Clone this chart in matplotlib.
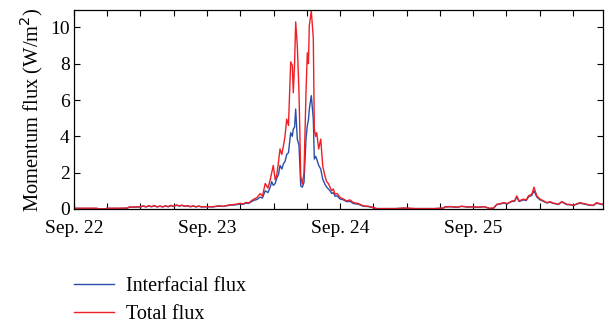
import pandas as pd
import matplotlib
matplotlib.use("Agg")
import matplotlib.pyplot as plt
import matplotlib.dates as mdates

plt.rcParams['font.family'] = ['Liberation Serif', 'DejaVu Serif']

# hours since Sep. 22 00:00
hours = [0, 2, 4, 4.8, 5.5, 6, 8, 9.6, 10, 11, 12, 12.5, 13, 13.5, 14, 14.5, 15, 15.5,
         16, 16.5, 17, 17.5, 18, 18.5, 19, 19.5, 20, 20.5, 21, 21.5, 22, 22.5, 23, 24,
         25, 26, 27, 28, 29, 30, 30.5, 31, 31.5, 32, 32.5, 33, 33.6, 34, 34.5, 35, 35.4,
         35.67, 35.96, 36.3, 36.58, 36.9, 37.17, 37.5, 37.8, 38.07, 38.38, 38.7, 39.1,
         39.39, 39.57, 39.8, 40.0, 40.29, 40.6, 40.91, 41.2, 41.5, 41.86, 42.1, 42.3,
         42.46, 42.82, 43.18, 43.36, 43.6, 43.79, 44.15, 44.52, 44.88, 45.29, 45.6, 45.89,
         46.2, 46.5, 46.8, 47.1, 47.5, 48.0, 48.6, 49.2, 49.8, 50.4, 51.3, 52.2, 53.1,
         54.0, 54.6, 56, 58, 59.5, 60.5, 61.5, 63, 65, 66.6, 67, 68, 69, 70, 71, 72, 73,
         74, 75, 75.7, 76.3, 77, 77.5, 78.2, 79.0, 79.5, 79.9, 80.3, 81.1, 81.6, 82.0,
         82.6, 83.0, 83.5, 84.1, 84.7, 85.3, 85.9, 86.5, 87.0, 87.4, 88.0, 88.9, 89.5,
         90.1, 90.7, 91.3, 91.9, 92.5, 93.1, 93.7, 94.3, 95.2, 95.5]

total_flux = [0.04, 0.04, 0.04, 0.0, 0.0, 0.04, 0.04, 0.05, 0.11, 0.11, 0.12, 0.17, 0.12,
              0.18, 0.13, 0.19, 0.12, 0.16, 0.12, 0.17, 0.13, 0.2, 0.15, 0.22, 0.17, 0.21,
              0.15, 0.18, 0.13, 0.17, 0.12, 0.16, 0.12, 0.13, 0.12, 0.17, 0.15, 0.22, 0.25,
              0.31, 0.28, 0.36, 0.33, 0.45, 0.55, 0.62, 0.85, 0.7, 1.4, 1.15, 1.6,
              2.0, 2.4, 1.6, 1.85, 2.6, 3.3, 3.0, 3.5, 4.0, 4.95, 4.6, 8.1,
              7.9, 6.4, 8.0, 10.3, 9.0, 6.4, 1.8, 1.37, 2.0, 6.4, 8.6, 8.0,
              10.1, 10.9, 9.4, 4.4, 4.0, 4.2, 3.3, 3.85, 2.37, 1.8, 1.5, 1.4,
              1.2, 1.0, 1.1, 0.81, 0.85, 0.63, 0.55, 0.44, 0.5, 0.35, 0.3, 0.17, 0.15,
              0.08, 0.02, 0.02, 0.02, 0.05, 0.04, 0.02, 0.02, 0.02, 0.05, 0.12, 0.13, 0.1,
              0.15, 0.11, 0.12, 0.1, 0.13, 0.03, 0.05, 0.26, 0.3, 0.35, 0.3, 0.44, 0.45,
              0.72, 0.44, 0.54, 0.5, 0.72, 0.81, 1.2, 0.72, 0.54, 0.45, 0.35, 0.4, 0.32,
              0.3, 0.26, 0.41, 0.26, 0.25, 0.2, 0.28, 0.35, 0.3, 0.26, 0.22, 0.2, 0.35,
              0.26, 0.28]

interfacial_flux = [0.03, 0.03, 0.03, 0.0, 0.0, 0.03, 0.03, 0.04, 0.1, 0.1, 0.11, 0.15,
                    0.11, 0.16, 0.12, 0.17, 0.11, 0.15, 0.11, 0.16, 0.12, 0.18, 0.14, 0.2,
                    0.16, 0.19, 0.14, 0.17, 0.12, 0.16, 0.11, 0.15, 0.11, 0.12, 0.11, 0.15,
                    0.14, 0.2, 0.22, 0.27, 0.25, 0.32, 0.3, 0.4, 0.48, 0.52, 0.65, 0.6,
                    1.0, 0.9, 1.2, 1.5, 1.3, 1.4, 1.7, 1.9, 2.4, 2.2, 2.5, 2.6, 3.0, 3.1,
                    4.2, 4.0, 4.4, 4.5, 5.5, 3.85, 3.5, 1.27, 1.2, 1.46, 3.85, 4.6, 4.9,
                    5.5, 6.24, 4.95, 2.75, 2.9, 2.75, 2.4, 2.2, 1.64, 1.35, 1.2, 1.1,
                    1.0, 0.85, 0.9, 0.7, 0.72, 0.55, 0.5, 0.4, 0.42, 0.3, 0.26, 0.15, 0.13,
                    0.07, 0.02, 0.02, 0.02, 0.04, 0.03, 0.02, 0.02, 0.02, 0.04, 0.11, 0.12,
                    0.09, 0.14, 0.1, 0.11, 0.09, 0.12, 0.03, 0.04, 0.24, 0.28, 0.32, 0.28,
                    0.41, 0.42, 0.66, 0.41, 0.5, 0.46, 0.66, 0.75, 1.0, 0.66, 0.5, 0.42,
                    0.33, 0.37, 0.3, 0.28, 0.24, 0.38, 0.24, 0.23, 0.19, 0.26, 0.32, 0.28,
                    0.24, 0.2, 0.19, 0.32, 0.24, 0.26]

start = pd.Timestamp("2013-09-22")
times = start + pd.to_timedelta(hours, unit="h")

fig = plt.figure(figsize=(6.05, 3.27), dpi=100)
ax = fig.add_axes([0.1223, 0.361, 0.8744, 0.608])

ax.plot(times, interfacial_flux, color="#2a4ea8", lw=1.0, label="Interfacial flux")
ax.plot(times, total_flux, color="#ee2026", lw=1.0, label="Total flux")

ax.set_xlim(start, start + pd.Timedelta(hours=95.45))
ax.set_ylim(0, 10.95)
ax.set_yticks([0, 2, 4, 6, 8, 10])
ax.xaxis.set_major_locator(mdates.DayLocator())
ax.xaxis.set_major_formatter(mdates.DateFormatter("%b. %d"))
ax.xaxis.set_minor_locator(mdates.HourLocator(byhour=[6, 12, 18]))

ax.tick_params(which="both", direction="in", top=True, right=True, length=4,
               width=0.8, labelsize=14, pad=3)
ax.tick_params(axis="x", which="major", pad=8)
ax.set_ylabel("Momentum flux (W/m$^2$)", fontsize=14.8, labelpad=4)
for s in ax.spines.values():
    s.set_linewidth(0.9)

fig.legend(loc="upper left", bbox_to_anchor=(0.105, 0.183), frameon=False,
           fontsize=14.5, handlelength=2.0, handletextpad=0.6, labelspacing=0.45,
           borderpad=0)

plt.savefig("out.png", dpi=100)
plt.close()
